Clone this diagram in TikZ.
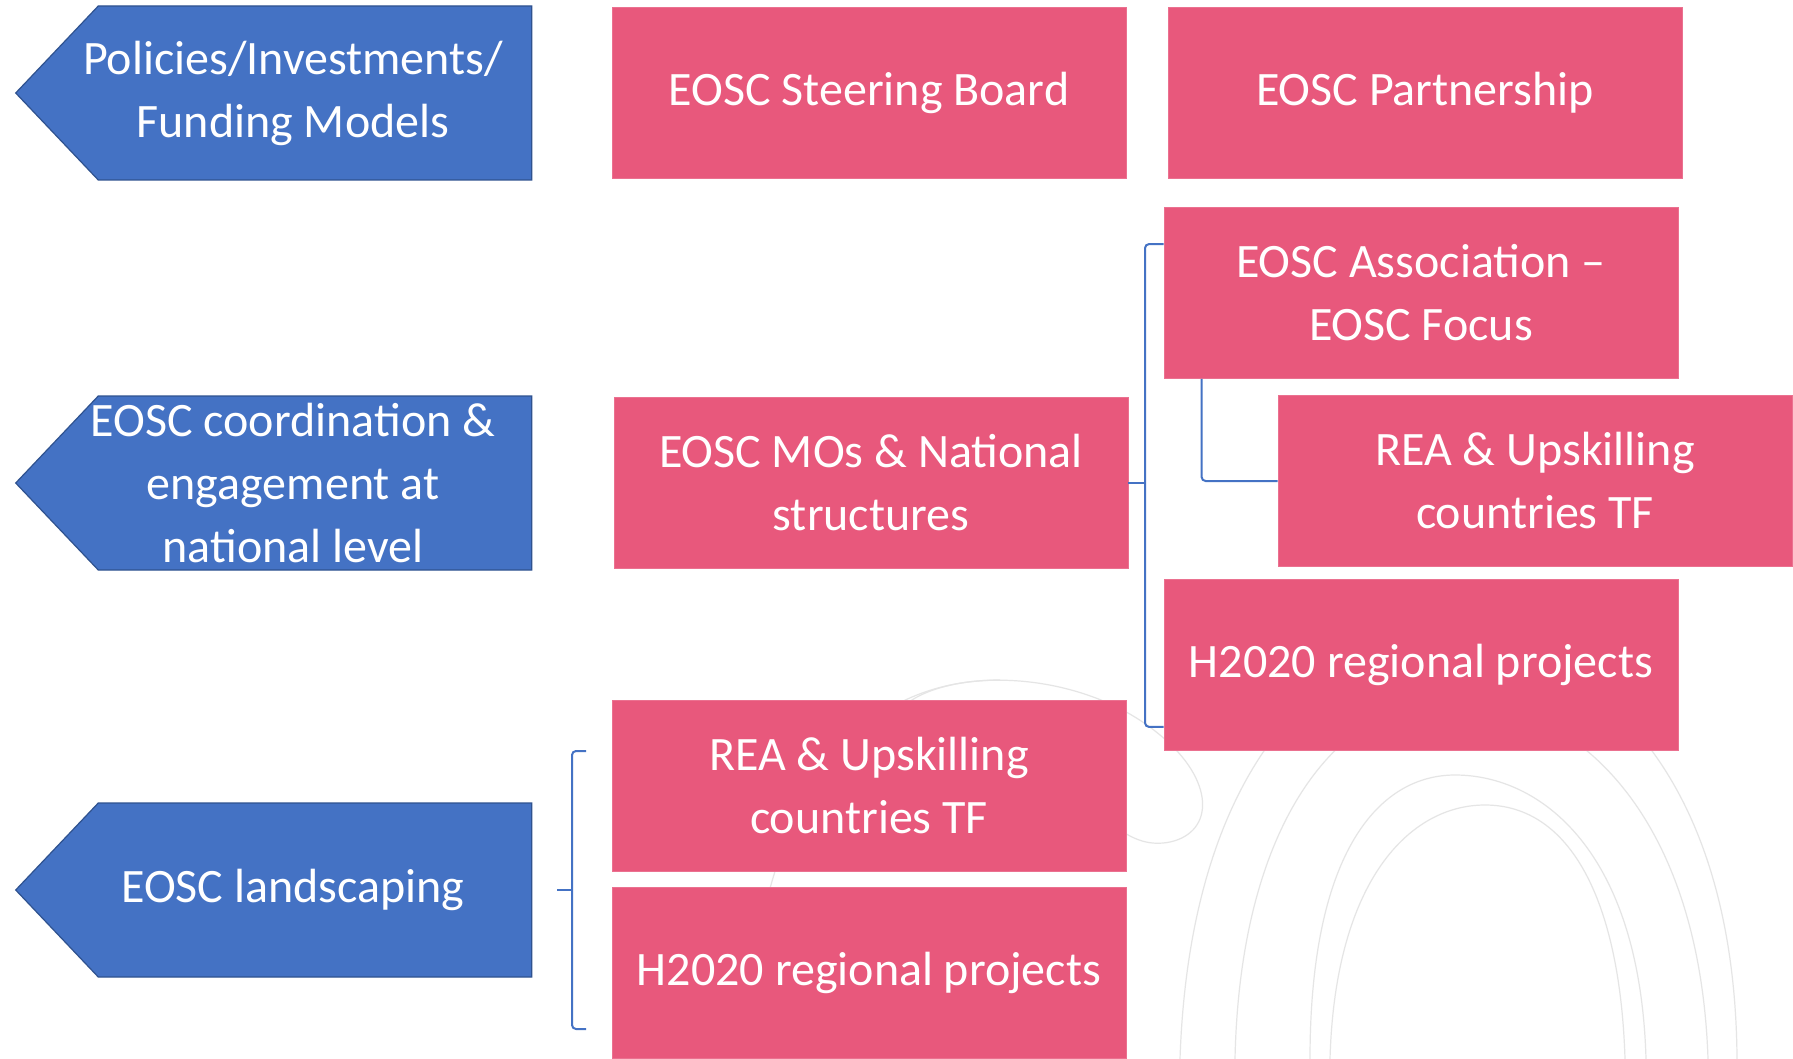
\documentclass[tikz,border=0pt]{standalone}
\usepackage{fontspec}
\setmainfont{Carlito}
\usetikzlibrary{calc}
\usetikzlibrary{shapes.symbols}
\definecolor{eoscblue}{HTML}{4472C4}
\definecolor{eoscedge}{HTML}{2F528F}
\definecolor{eoscpink}{HTML}{E8587C}
\newcommand{\largo}{257pt}
\newcommand{\alto}{85.5pt}

\begin{document}
\begin{tikzpicture}[x=0.5pt,y=-0.5pt]
\tikzstyle{box}=[fill=eoscpink, draw=eoscpink!85!white, rectangle, align=center, text=white, minimum width=\largo, minimum height=\alto, inner sep=0pt, font=\fontsize{24}{31.5}\selectfont]
\tikzstyle{level}=[signal, signal to=west, signal from=nowhere, signal pointer angle=93, fill=eoscblue, draw=eoscedge, line width=.6pt, minimum width=258pt, minimum height=87pt, inner sep=0pt]
\tikzstyle{leveltext}=[align=center, text=white, inner sep=0pt, font=\fontsize{24}{31.5}\selectfont]
\tikzstyle{brace}=[eoscblue, line width=1pt, rounded corners=2pt]
\tikzstyle{watermark}=[black!10, line width=.6pt]
\clip (0,0) rectangle (1793,1059);
\fill[white] (0,0) rectangle (1793,1059);

% faint logo in the background
\draw[watermark] (905,705) .. controls (950,668) and (1080,668) .. (1160,735) .. controls (1215,780) and (1215,832) .. (1170,842) .. controls (1150,846) and (1135,840) .. (1120,830);
\draw[watermark] (1180,1059) .. controls (1190,760) and (1330,640) .. (1450,640) .. controls (1580,640) and (1735,760) .. (1737,1059);
\draw[watermark] (1235,1059) .. controls (1240,820) and (1340,700) .. (1450,700) .. controls (1580,700) and (1700,820) .. (1708,1059);
\draw[watermark] (1310,1059) .. controls (1310,850) and (1380,775) .. (1455,775) .. controls (1540,775) and (1640,850) .. (1646,1059);
\draw[watermark] (1330,1059) .. controls (1335,880) and (1410,805) .. (1485,805) .. controls (1570,805) and (1620,900) .. (1625,1059);
\draw[watermark] (745,1059) .. controls (760,760) and (880,680) .. (1000,680);

% levels on the left
\node[level] (policies) at (315,93) {};
\node[leveltext] (policiesT) at ($(policies)+(-22,0)$) {Policies/Investments/\\Funding Models};
\node[level] (national) at (315,483) {};
\node[leveltext] (nationalT) at ($(national)+(-22,0)$) {EOSC coordination \&\\engagement at\\national level};
\node[level] (landscape) at (315,890) {};
\node[leveltext] (landscapeT) at ($(landscape)+(-22,0)$) {EOSC landscaping};

% boxes, top row
\node[box] (board) at (869,93) {EOSC Steering Board};
\node[box] (partner) at (1425,93) {EOSC Partnership};

% national level
\node[box] (mos) at (871,483) {EOSC MOs \& National\\structures};
\node[box] (assoc) at (1421,293) {EOSC Association –\\EOSC Focus};
\node[box] (reaR) at (1535,481) {REA \& Upskilling\\countries TF};
\node[box] (h2020R) at (1421,665) {H2020 regional projects};

% landscaping
\node[box] (reaL) at (869,786) {REA \& Upskilling\\countries TF};
\node[box] (h2020L) at (869,973) {H2020 regional projects};

% brackets
\coordinate (rTop) at ($(assoc.north west)+(0,37)$);
\coordinate (rBot) at ($(h2020R.south west)+(0,-24)$);
\draw[brace] (rTop) -- (rTop -| 1145,0) -- (rBot -| 1145,0) -- (rBot);
\draw[brace] (mos.east) -- ++(16,0);
\draw[brace] ($(assoc.south west)+(38,0)$) |- (reaR.west);

\coordinate (lTop) at (586,751);
\coordinate (lBot) at (586,1029);
\draw[brace] (lTop) -- (lTop -| 572,0) -- (lBot -| 572,0) -- (lBot);
\draw[brace] ($(landscape.east)+(25,0)$) -- ++(15,0);
\end{tikzpicture}
\end{document}
